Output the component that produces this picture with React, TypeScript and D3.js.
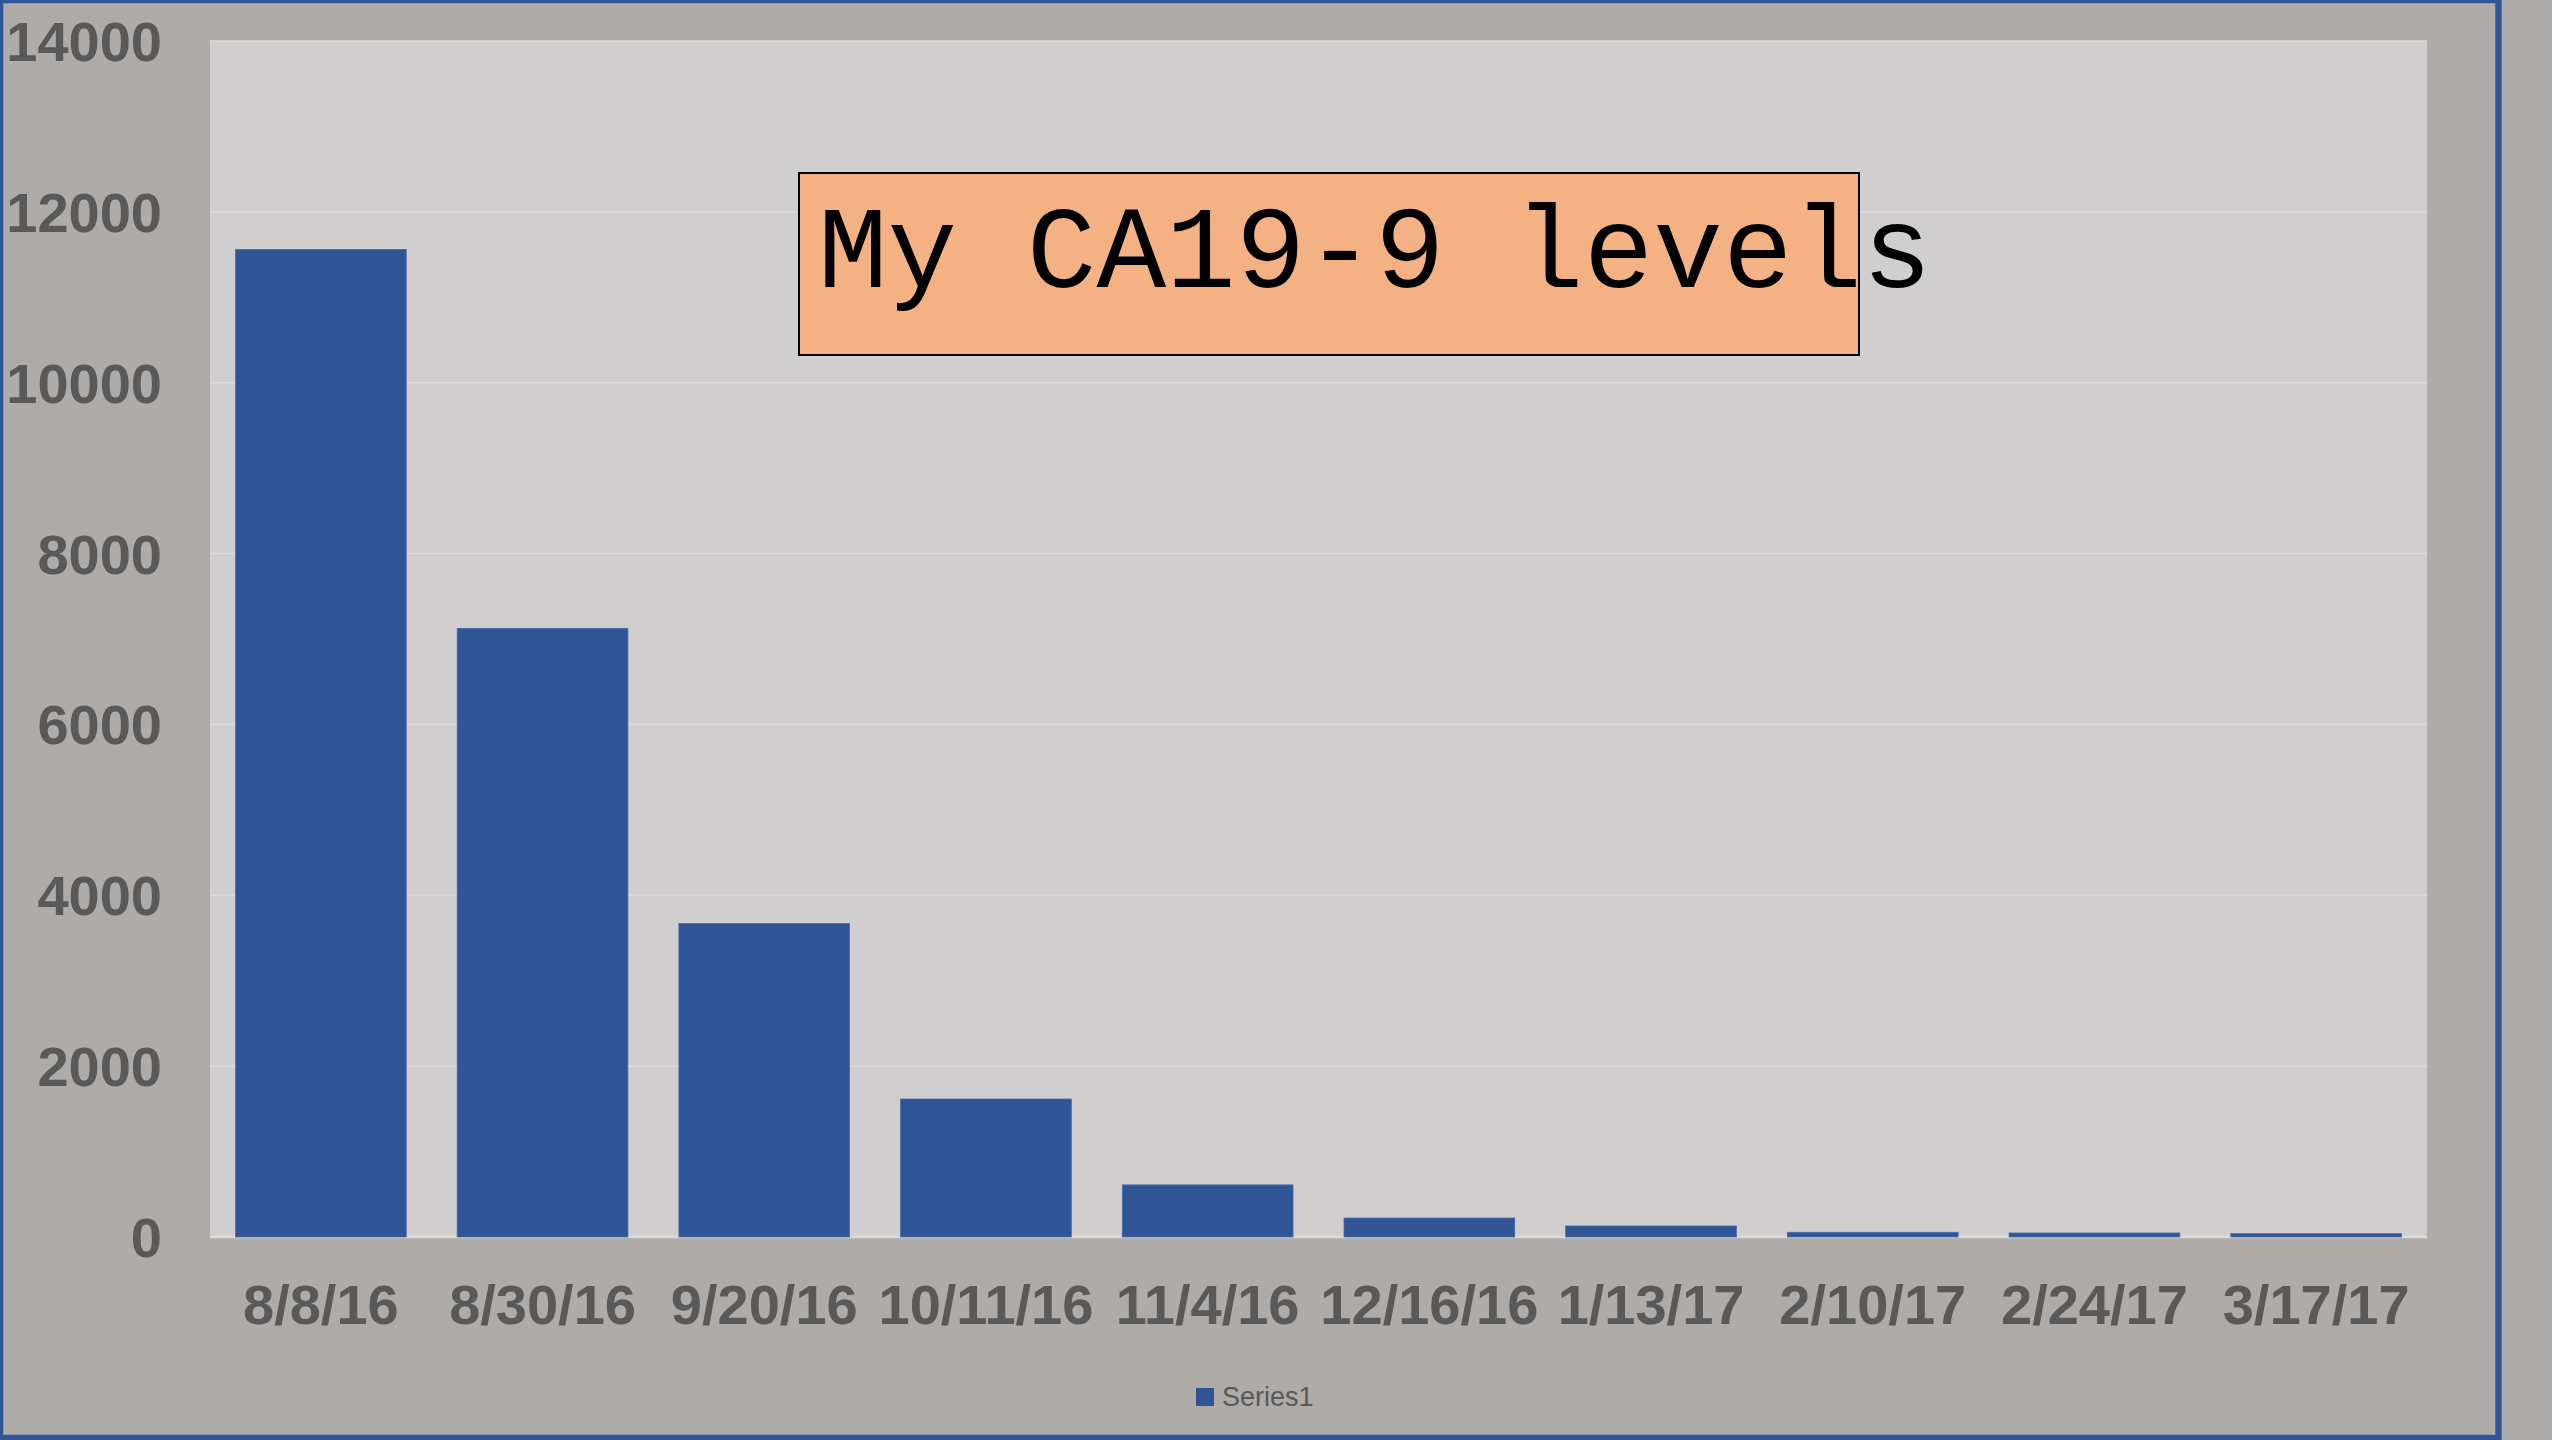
import React from 'react';
import * as d3 from 'd3';

// dates of each test
const dates = ['8/8/16', '8/30/16', '9/20/16', '10/11/16', '11/4/16', '12/16/16', '1/13/17', '2/10/17', '2/24/17', '3/17/17'];
// CA19-9 values
const levels = [11560, 7125, 3670, 1615, 610, 222, 129, 55, 47, 39];
const yTicks = [0, 2000, 4000, 6000, 8000, 10000, 12000, 14000];
const seriesName = 'Series1';
const titleText = 'My CA19-9 levels';

const W = 2552;
const H = 1440;
const plot = { left: 210, right: 2427, top: 41, bottom: 1237 };

const BLUE = '#2F5597';
const TEXT = '#595959';

const App: React.FC = () => {
  const x = d3
    .scaleBand<string>()
    .domain(dates)
    .range([plot.left, plot.right])
    .paddingInner(0.23)
    .paddingOuter(0.115);

  const y = d3.scaleLinear().domain([0, 14000]).range([plot.bottom, plot.top]);

  return (
    <svg
      width={W}
      height={H}
      style={{ position: 'absolute', left: 0, top: 0, display: 'block' }}
    >
      {/* outer background */}
      <rect x={0} y={0} width={W} height={H} fill="#AEABA9" />

      {/* plot area */}
      <rect
        x={plot.left}
        y={plot.top}
        width={plot.right - plot.left}
        height={plot.bottom - plot.top}
        fill="#D0CECF"
      />

      {/* gridlines */}
      {yTicks.map((t) => (
        <line
          key={'g' + t}
          x1={plot.left}
          x2={plot.right}
          y1={y(t)}
          y2={y(t)}
          stroke="#DCDADA"
          strokeWidth={t === 0 ? 2.5 : 1.5}
        />
      ))}

      {/* bars */}
      {levels.map((v, i) => (
        <rect
          key={dates[i]}
          x={x(dates[i])}
          y={y(v)}
          width={x.bandwidth()}
          height={plot.bottom - y(v)}
          fill={BLUE}
          stroke="#4A6CA6"
          strokeWidth={0.8}
        />
      ))}

      {/* y labels */}
      {yTicks.map((t) => (
        <text
          key={'y' + t}
          x={162}
          y={y(t) + 20}
          textAnchor="end"
          fontFamily="'Liberation Sans', Arial, sans-serif"
          fontWeight="bold"
          fontSize={56}
          fill={TEXT}
        >
          {t}
        </text>
      ))}

      {/* x labels */}
      {dates.map((d) => (
        <text
          key={'x' + d}
          x={(x(d) ?? 0) + x.bandwidth() / 2}
          y={1324}
          textAnchor="middle"
          fontFamily="'Liberation Sans', Arial, sans-serif"
          fontWeight="bold"
          fontSize={56}
          fill={TEXT}
        >
          {d}
        </text>
      ))}

      {/* title box */}
      <rect x={799} y={173} width={1060} height={182} fill="#F4B183" stroke="#000" strokeWidth={2} />
      <text
        x={818}
        y={287}
        fontFamily="'Liberation Mono', 'Courier New', monospace"
        fontSize={116}
        fill="#000"
      >
        {titleText}
      </text>

      {/* legend */}
      <rect x={1196} y={1388} width={18} height={18} fill={BLUE} />
      <text
        x={1222}
        y={1406}
        fontFamily="'Liberation Sans', Arial, sans-serif"
        fontSize={27}
        fill={TEXT}
      >
        {seriesName}
      </text>

      {/* blue frame */}
      <rect x={0} y={0} width={2498.5} height={1438} fill="none" stroke={BLUE} strokeWidth={6.5} />
    </svg>
  );
};

export default App;
